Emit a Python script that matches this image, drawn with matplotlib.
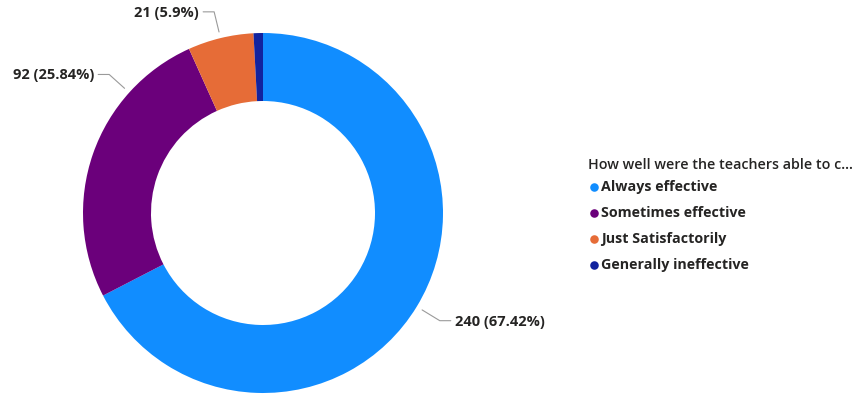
import numpy as np
import matplotlib.pyplot as plt

plt.rcParams["font.family"] = ["Open Sans", "DejaVu Sans"]

# ----------------------------------------------------------
# Data
# ----------------------------------------------------------
categories = ["Always effective", "Sometimes effective",
              "Just Satisfactorily", "Generally ineffective"]
counts = [240, 92, 21, 3]
colors = ["#118DFF", "#6B007B", "#E66C37", "#12239E"]
legend_title = "How well were the teachers able to c..."
show_label = [True, True, True, False]
# where along each wedge (0..1, clockwise) the leader line attaches
label_frac = [0.5, 0.745, 0.5, 0.5]

TEXT = "#252423"
LINE = "#9a9a9a"

W, H = 858, 394
fig = plt.figure(figsize=(W / 100, H / 100), dpi=100)
ax = fig.add_axes([0, 0, 1, 1])

cx, cy, R = 263, H - 213, 180
ax.pie(counts, colors=colors, startangle=90, counterclock=False,
       radius=R, center=(cx, cy),
       wedgeprops=dict(width=68, linewidth=0))
ax.set_xlim(0, W)
ax.set_ylim(0, H)
ax.set_aspect("equal")
ax.axis("off")

# ----------------------------------------------------------
# Data labels with leader lines
# ----------------------------------------------------------
total = sum(counts)
start = 90.0
for i, v in enumerate(counts):
    span = v / total * 360
    ang = np.deg2rad(start - span * label_frac[i])
    start -= span
    if not show_label[i]:
        continue
    pct = f"{v / total * 100:.2f}".rstrip("0").rstrip(".")
    side = 1 if np.cos(ang) >= 0 else -1
    p0 = (cx + 1.035 * R * np.cos(ang), cy + 1.035 * R * np.sin(ang))
    p1 = (cx + 1.15 * R * np.cos(ang), cy + 1.15 * R * np.sin(ang))
    p2 = (p1[0] + side * 11, p1[1])
    ax.plot([p0[0], p1[0], p2[0]], [p0[1], p1[1], p2[1]],
            color=LINE, lw=0.8, solid_capstyle="round")
    ax.text(p2[0] + side * 4, p2[1] - 1, f"{v} ({pct}%)",
            ha="left" if side > 0 else "right", va="center",
            fontsize=10.5, fontweight="bold", color=TEXT)

# ----------------------------------------------------------
# Legend
# ----------------------------------------------------------
lx, ly, step = 588, H - 165, 26
ax.text(lx, ly, legend_title, ha="left", va="center",
        fontsize=10.3, fontweight="semibold", color=TEXT)
for i, (cat, col) in enumerate(zip(categories, colors)):
    y = ly - step * (i + 1) + 4
    ax.scatter([lx + 6], [y], s=38, color=col, linewidths=0)
    ax.text(lx + 13, y, cat, ha="left", va="center",
            fontsize=10.3, fontweight="bold", color=TEXT)

plt.savefig("out.png", dpi=100)
plt.close()
